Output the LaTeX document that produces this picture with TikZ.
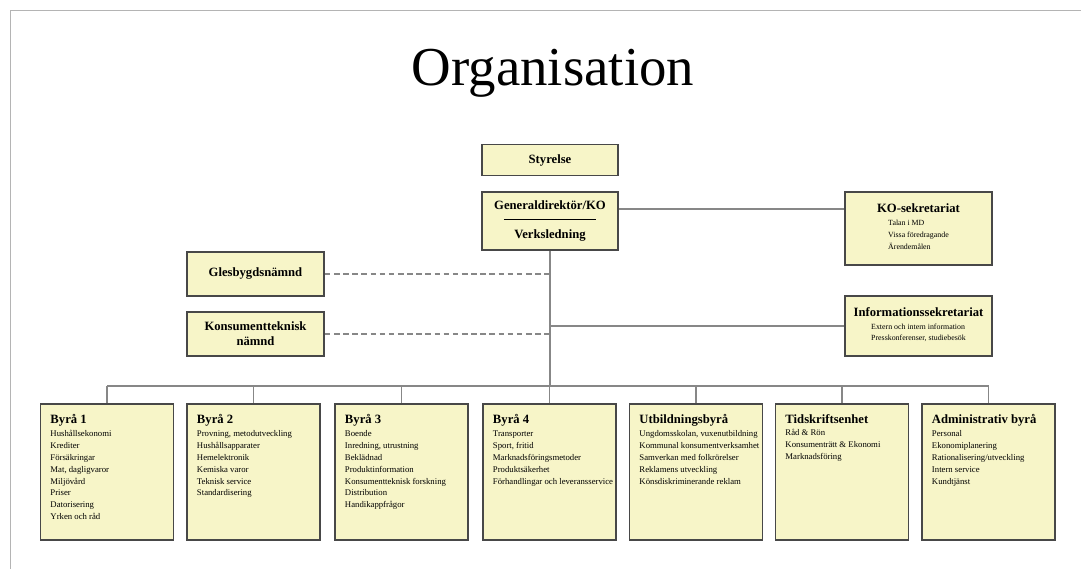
\documentclass[tikz,border=0pt]{standalone}
\usepackage{fontspec}
\setmainfont{Liberation Serif}
\usepackage{tikz}
\usetikzlibrary{positioning,calc}

\definecolor{boxfill}{RGB}{247,245,200}
\definecolor{boxline}{RGB}{72,72,72}
\definecolor{wiregray}{RGB}{135,135,135}
\definecolor{framegray}{RGB}{180,180,180}

\tikzset{
  orgbox/.style={draw=boxline, line width=1.2pt, fill=boxfill, inner sep=0pt,
    align=center, font=\fontsize{9}{10.5}\selectfont\bfseries},
  byrabox/.style={draw=boxline, line width=1.2pt, fill=boxfill, inner xsep=0.25cm, inner ysep=0.26cm,
    font=\fontsize{6.2}{8.5}\selectfont},
  wire/.style={draw=wiregray, line width=0.9pt},
  dashwire/.style={wire, dash pattern=on 4pt off 2.5pt},
}

\newcommand{\subfont}{\fontsize{5.6}{8.4}\selectfont\mdseries}
\newcommand{\byratext}[2]{%
  \begin{minipage}[t][2.88cm][t]{2.825cm}
    \begin{tabular}[t]{@{}l@{}}{\fontsize{9}{9}\selectfont\bfseries #1}\\[0.5pt]
    #2
    \end{tabular}
  \end{minipage}}

\begin{document}
\begin{tikzpicture}[x=0.025cm, y=-0.025cm]
  \useasboundingbox (0,0) rectangle (1081,569); %Fix page size
  \draw[framegray, line width=0.6pt] (10,569) -- (10,10) -- (1081,10); %Draw page frame

  \node[anchor=base, font=\fontsize{39}{42}\selectfont] (title) at (553,86) {Organisation};

  % top of the tree
  \node[orgbox, minimum width=3.4cm, minimum height=0.775cm] (styr) at (550,160) {Styrelse};
  \node[orgbox, minimum width=3.4cm, minimum height=1.45cm] (gd) at (550,221)
    {Generaldirektör/KO\\[-3pt]\rule{2.3cm}{0.6pt}\\[3pt]Verksledning};

  % staff units on the right
  \node[orgbox, minimum width=3.675cm, minimum height=1.825cm] (ko) at (918.5,228.5)
    {KO-sekretariat\\[-1.5pt]{\subfont\begin{tabular}[t]{@{}l@{}}Talan i MD\\Vissa föredragande\\Ärendemålen\end{tabular}}};
  \node[orgbox, minimum width=3.675cm, minimum height=1.5cm] (info) at (918.5,326)
    {Informationssekretariat\\[-1.5pt]{\subfont\begin{tabular}[t]{@{}l@{}}Extern och intern information\\Presskonferenser, studiebesök\end{tabular}}};

  % boards on the left
  \node[orgbox, minimum width=3.425cm, minimum height=1.1cm] (gles) at (255.5,274) {Glesbygdsnämnd};
  \node[orgbox, minimum width=3.425cm, minimum height=1.1cm] (kons) at (255.5,334) {Konsumentteknisk\\nämnd};

  % departments
  \node[byrabox] (b1) at (107,472) {\byratext{Byrå 1}{Hushållsekonomi\\Krediter\\Försäkringar\\Mat, dagligvaror\\Miljövård\\Priser\\Datorisering\\Yrken och råd}};
  \node[byrabox] (b2) at (253.5,472) {\byratext{Byrå 2}{Provning, metodutveckling\\Hushållsapparater\\Hemelektronik\\Kemiska varor\\Teknisk service\\Standardisering}};
  \node[byrabox] (b3) at (401.5,472) {\byratext{Byrå 3}{Boende\\Inredning, utrustning\\Beklädnad\\Produktinformation\\Konsumentteknisk forskning\\Distribution\\Handikappfrågor}};
  \node[byrabox] (b4) at (549.5,472) {\byratext{Byrå 4}{Transporter\\Sport, fritid\\Marknadsföringsmetoder\\Produktsäkerhet\\Förhandlingar och leveransservice}};
  \node[byrabox] (b5) at (696,472) {\byratext{Utbildningsbyrå}{Ungdomsskolan, vuxenutbildning\\Kommunal konsumentverksamhet\\Samverkan med folkrörelser\\Reklamens utveckling\\Könsdiskriminerande reklam}};
  \node[byrabox] (b6) at (842,472) {\byratext{Tidskriftsenhet}{Råd \& Rön\\Konsumenträtt \& Ekonomi\\Marknadsföring}};
  \node[byrabox] (b7) at (988.5,472) {\byratext{Administrativ byrå}{Personal\\Ekonomiplanering\\Rationalisering/utveckling\\Intern service\\Kundtjänst}};

  % connectors
  \coordinate (bus) at (550,386);
  \coordinate (gdko) at ($(gd.east)+(0,-12)$);
  \draw[wire] (gd.south) -- (bus); %Draw main line
  \draw[wire] (gdko) -- (gdko -| ko.west);
  \draw[wire] (info.west) -- (info.west -| bus);
  \draw[dashwire] (gles.east) -- (gles.east -| bus);
  \draw[dashwire] (kons.east) -- (kons.east -| bus);
  \draw[wire] (b1.north |- bus) -- (b7.north |- bus); %Draw department bus
  \foreach \n in {1,...,7}
    \draw[wire] (b\n.north |- bus) -- (b\n.north);
\end{tikzpicture}
\end{document}
